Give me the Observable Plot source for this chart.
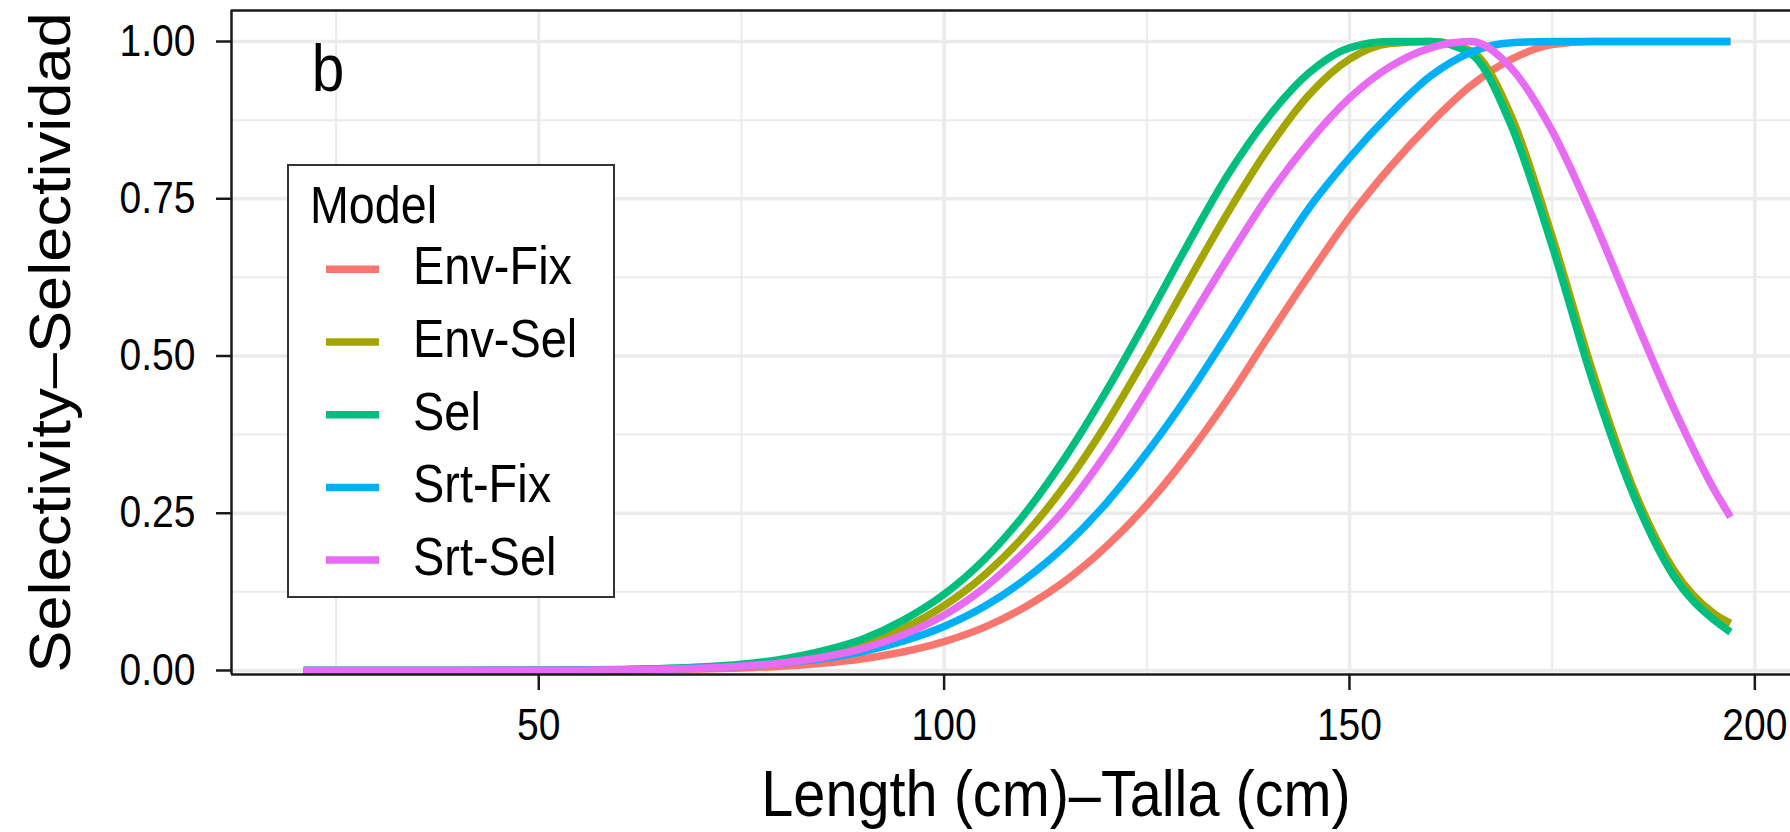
<!DOCTYPE html>
<html>
<head>
<meta charset="utf-8">
<script src="https://cdn.jsdelivr.net/npm/d3@7"></script>
<script src="https://cdn.jsdelivr.net/npm/@observablehq/plot@0.6"></script>
<style>
  html, body { margin: 0; padding: 0; background: #fff; overflow: hidden; }
  #wrap { position: relative; width: 1790px; height: 832px; }
  #wrap svg { display: block; }
  #legend { position: absolute; left: 0; top: 0; pointer-events: none; }
</style>
</head>
<body>
<div id="wrap"></div>
<script>
// ---- data ----
const models = ["Env-Fix", "Env-Sel", "Sel", "Srt-Fix", "Srt-Sel"];
const modelColors = ["#F8766D", "#A3A500", "#00BF7D", "#00B0F6", "#E76BF3"];

const lengths = [21, 30, 40, 50, 60, 70, 75, 80, 85, 90, 95,
  100, 105, 110, 115, 120, 125, 130, 135, 140, 145,
  150, 155, 160, 165, 170, 175, 180, 185, 190, 195, 197];

const envFix = [0, 0, 0.00004, 0.0002, 0.0006, 0.0022, 0.0039, 0.0068, 0.0114, 0.0187, 0.0298,
  0.046, 0.069, 0.101, 0.143, 0.197, 0.263, 0.342, 0.432, 0.531, 0.628,
  0.720, 0.800, 0.870, 0.930, 0.972, 0.995, 1, 1, 1, 1, 1];
const envSel = [0, 0, 0.0001, 0.0003, 0.0012, 0.0046, 0.0084, 0.015, 0.0255, 0.042, 0.067,
  0.103, 0.152, 0.216, 0.296, 0.392, 0.501, 0.616, 0.728, 0.830, 0.915,
  0.972, 0.997, 1.0, 0.985, 0.88, 0.69, 0.475, 0.29, 0.16, 0.09, 0.075];
const sel = [0, 0, 0.0001, 0.0003, 0.0015, 0.0055, 0.010, 0.018, 0.031, 0.050, 0.080,
  0.121, 0.177, 0.250, 0.340, 0.444, 0.558, 0.676, 0.788, 0.880, 0.950,
  0.990, 1.0, 1.0, 0.98, 0.865, 0.675, 0.46, 0.28, 0.15, 0.08, 0.061];
const srtFix = [0, 0, 0.0001, 0.0003, 0.0012, 0.004, 0.0069, 0.0117, 0.019, 0.030, 0.047,
  0.070, 0.102, 0.145, 0.199, 0.266, 0.346, 0.436, 0.535, 0.637, 0.735,
  0.815, 0.885, 0.945, 0.983, 0.998, 1, 1, 1, 1, 1, 1];
const srtSel = [0, 0, 0.0001, 0.0003, 0.001, 0.0037, 0.0068, 0.012, 0.021, 0.035, 0.057,
  0.088, 0.132, 0.190, 0.258, 0.345, 0.445, 0.550, 0.655, 0.755, 0.840,
  0.910, 0.960, 0.990, 1.0, 0.957, 0.858, 0.720, 0.566, 0.417, 0.287, 0.244];

const xTicks = [50, 100, 150, 200];
const xMinor = [25, 75, 125, 175];
const yTicks = [0, 0.25, 0.5, 0.75, 1];
const yMinor = [0.125, 0.375, 0.625, 0.875];

const xTitle = "Length (cm)\u2013Talla (cm)";
const yTitle = "Selectivity\u2013Selectividad";
const legendTitle = "Model";
const panelTag = "b";

// ---- build table ----
const seriesValues = [envFix, envSel, sel, srtFix, srtSel];
const data = [];
models.forEach((m, k) => lengths.forEach((L, i) => data.push({model: m, length: L, sel: seriesValues[k][i]})));

const xDomain = [12.1, 204.4];
const yDomain = [-0.0064, 1.0493];
const FONT = "'Liberation Sans', Arial, Helvetica, sans-serif";
const SQ = 0.887;

const plot = Plot.plot({
  width: 1790,
  height: 832,
  marginLeft: 231,
  marginRight: 0,
  marginTop: 10,
  marginBottom: 158,
  x: {domain: xDomain},
  y: {domain: yDomain},
  color: {domain: models, range: modelColors},
  style: {fontFamily: FONT, background: "white", color: "black", overflow: "hidden"},
  marks: [
    Plot.gridX(xMinor, {stroke: "#EBEBEB", strokeOpacity: 1, strokeWidth: 2}),
    Plot.gridY(yMinor, {stroke: "#EBEBEB", strokeOpacity: 1, strokeWidth: 2}),
    Plot.gridX(xTicks, {stroke: "#EBEBEB", strokeOpacity: 1, strokeWidth: 3.5}),
    Plot.gridY(yTicks, {stroke: "#EBEBEB", strokeOpacity: 1, strokeWidth: 3.5}),
    Plot.line(data, {x: "length", y: "sel", stroke: "model", z: "model", strokeWidth: 7.5,
      curve: "monotone-x", strokeLinecap: "butt", strokeLinejoin: "round"}),
    Plot.ruleX([xDomain[0]], {stroke: "#1a1a1a", strokeWidth: 2.5}),
    Plot.ruleY([yDomain[0]], {stroke: "#1a1a1a", strokeWidth: 2.5}),
    Plot.ruleY([yDomain[1]], {stroke: "#1a1a1a", strokeWidth: 2.5}),
    Plot.axisX(xTicks, {anchor: "bottom", tickSize: 16, tickPadding: 18, fontSize: 44,
      strokeWidth: 2.5, stroke: "#1a1a1a", fill: "black", label: null, tickFormat: d => String(d)}),
    Plot.axisY(yTicks, {anchor: "left", tickSize: 15, tickPadding: 21, fontSize: 44,
      strokeWidth: 2.5, stroke: "#1a1a1a", fill: "black", label: null, tickFormat: d3.format(".2f")}),
    Plot.text([panelTag], {x: 24, y: 0.955, text: d => d, fontSize: 66, fill: "black",
      textAnchor: "middle", lineAnchor: "middle"}),
    Plot.text([xTitle], {frameAnchor: "bottom", text: d => d, dx: 45, dy: 141, fontSize: 65,
      fill: "black", textAnchor: "middle", lineAnchor: "bottom"}),
    Plot.text([yTitle], {frameAnchor: "left", text: d => d, rotate: -90, dx: -162, fontSize: 58,
      fill: "black", textAnchor: "middle", lineAnchor: "bottom"})
  ]
});

const wrap = document.getElementById("wrap");
wrap.appendChild(plot);

// condense glyphs like the reference typeface
plot.querySelectorAll("text").forEach(t => {
  const tr = t.getAttribute("transform") || "";
  const rotated = /rotate/.test(tr);
  t.setAttribute("transform", `${tr} scale(${rotated ? 1.09 : SQ},1)`);
});

// ---- legend (inside panel) ----
const color = plot.scale("color");
const ns = "http://www.w3.org/2000/svg";
const leg = d3.create("svg").attr("id", "legend").attr("width", 1790).attr("height", 832)
  .attr("xmlns", ns).style("font-family", FONT);
leg.append("rect").attr("x", 288).attr("y", 165).attr("width", 326).attr("height", 432)
  .attr("fill", "white").attr("stroke", "#333").attr("stroke-width", 2);
leg.append("text").attr("transform", `translate(310,223) scale(${SQ},1)`)
  .attr("font-size", 52.6).attr("fill", "black").text(legendTitle);
models.forEach((m, i) => {
  const cy = 269.3 + i * 72.7;
  leg.append("line").attr("x1", 326).attr("x2", 379).attr("y1", cy).attr("y2", cy)
    .attr("stroke", color.apply(m)).attr("stroke-width", 7.5);
  leg.append("text").attr("transform", `translate(413,${cy + 15}) scale(${SQ},1)`)
    .attr("font-size", 52.9).attr("fill", "black").text(m);
});
wrap.appendChild(leg.node());
</script>
</body>
</html>
